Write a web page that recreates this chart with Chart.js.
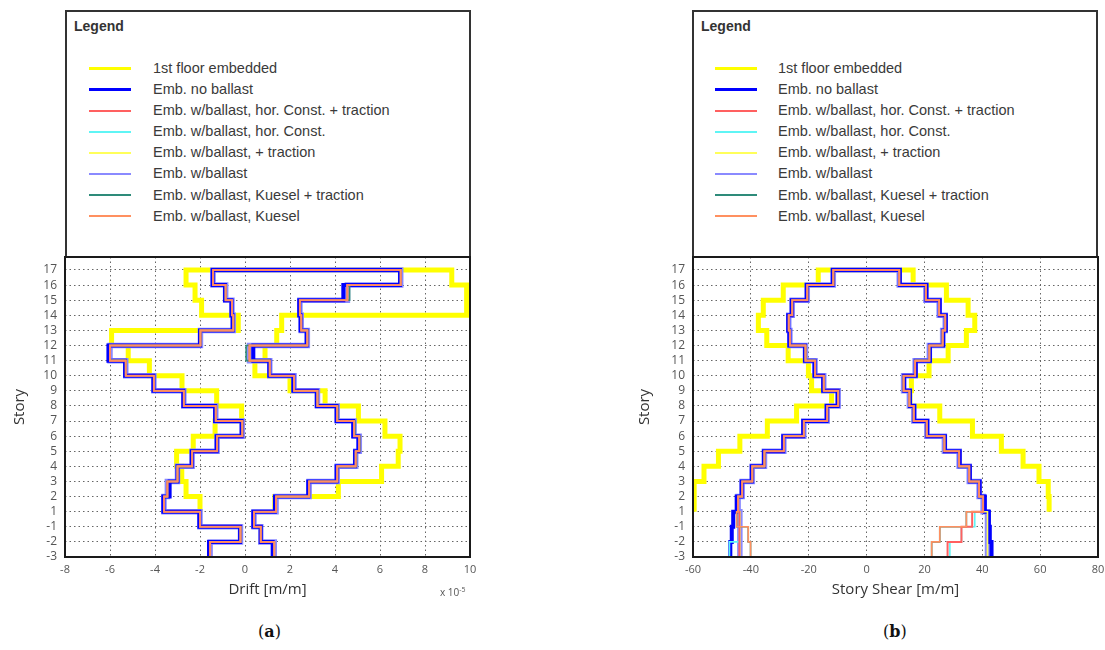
<!DOCTYPE html>
<html>
<head>
<meta charset="utf-8">
<script src="https://cdn.jsdelivr.net/npm/chart.js@4.4.1/dist/chart.umd.min.js"></script>
<style>
  body { margin: 0; width: 1105px; height: 650px; background: #fff; position: relative; overflow: hidden;
         font-family: 'Liberation Sans', Arial, sans-serif; }
  .legend { position: absolute; top: 10px; width: 406px; height: 248px; box-sizing: border-box;
            border: 2px solid #333; background: #fff; }
  .legend .ttl { position: absolute; left: 7px; top: 6px; font-weight: bold; font-size: 14px; color: #333; }
  .legend ul { list-style: none; margin: 0; padding: 0; position: absolute; top: 46px; left: 0; right: 0; }
  .legend li { height: 21.1px; line-height: 21.1px; position: relative; font-size: 14.5px; color: #3a3a3a; white-space: nowrap; }
  .legend li span.sw { position: absolute; top: 50%; width: 42px; }
  .legend li span.tx { position: absolute; }
  .plot { position: absolute; top: 250px; width: 480px; height: 360px; }
  .cap { position: absolute; top: 622px; font-family: 'DejaVu Serif', 'Liberation Serif', serif; font-size: 16px; color: #111; }
  .exp { position: absolute; left: 440px; top: 585px; font-family: 'Liberation Sans Narrow', 'Open Sans', sans-serif;
         font-size: 10px; color: #555; }
</style>
</head>
<body>
<div class="legend" id="legA" style="left:65px"><div class="ttl">Legend</div><ul></ul></div>
<div class="legend" id="legB" style="left:692px"><div class="ttl">Legend</div><ul></ul></div>
<div class="plot" style="left:0px"><canvas id="driftChart" width="480" height="360"></canvas></div>
<div class="plot" style="left:625px"><canvas id="shearChart" width="480" height="360"></canvas></div>
<div class="exp">x 10<sup style="font-size:7px">-5</sup></div>
<div class="cap" style="left:258px">(<b>a</b>)</div>
<div class="cap" style="left:883px">(<b>b</b>)</div>

<script>
// Story levels, bottom to top (each value below belongs to the interval between two levels)
const STORIES = ['-3', '-2', '-1', '1', '2', '3', '4', '5', '6', '7', '8', '9', '10', '11', '12', '13', '14', '15', '16', '17'];

const SERIES_LABELS = [
  '1st floor embedded',
  'Emb. no ballast',
  'Emb. w/ballast, hor. Const. + traction',
  'Emb. w/ballast, hor. Const.',
  'Emb. w/ballast, + traction',
  'Emb. w/ballast',
  'Emb. w/ballast, Kuesel + traction',
  'Emb. w/ballast, Kuesel'
];
const SERIES_COLORS = ['#ffff00', '#0000ff', '#ff6060', '#5ff5f5', '#ffff5a', '#8a8aff', '#2e8b7a', '#ff9060'];
const PLOT_WIDTHS = [5, 4, 2, 1.6, 1.6, 5.5, 1.6, 1.6];
// drawing order in the plot (lower = drawn later, on top); the light blue halo sits under the blue line
const PLOT_ORDER = [9, 7, 2, 5, 6, 8, 3, 1];
const LEGEND_WIDTHS = [3, 3, 2, 2, 2, 2, 2, 2];

// ---- Drift [x 1e-5 m/m], intervals from (-3..-2) up to (16..17) ----
const driftYellowMin = [null, null, null, -2.0, -2.62, -2.81, -3.04, -2.3, -1.33, -0.15, -1.26, -2.8, -4.25, -5.19, -5.93, -0.3, -1.93, -2.22, -2.62];
const driftYellowMax = [null, null, null, 1.33, 4.15, 6.07, 6.81, 6.89, 6.22, 5.04, 3.56, 2.0, 0.44, 0.89, 1.41, 1.63, 9.85, 9.85, 9.19];
const driftBlueMin = [-1.6, -0.22, -2.03, -3.63, -3.35, -3.0, -2.37, -1.26, -0.15, -1.33, -2.74, -4.07, -5.33, -6.07, -2.0, -0.55, -0.6, -0.89, -1.44];
const driftBlueMax = [1.23, 0.7, 0.37, 1.33, 2.81, 4.07, 4.89, 5.04, 4.81, 4.07, 3.19, 2.15, 1.08, 0.37, 2.74, 2.47, 2.41, 4.37, 6.89];
const driftBallastMin = [-1.55, -0.2, -2.0, -3.6, -3.45, -3.0, -2.35, -1.24, -0.12, -1.3, -2.72, -4.05, -5.3, -6.0, -1.98, -0.52, -0.58, -0.86, -1.42];
const driftBallastMax = [1.3, 0.7, 0.4, 1.38, 2.85, 4.1, 4.92, 5.08, 4.85, 4.1, 3.22, 2.18, 1.1, 0.2, 2.77, 2.5, 2.44, 4.55, 6.92];
const driftKueselMax = [1.3, 0.7, 0.4, 1.38, 2.85, 4.1, 4.95, 5.1, 4.88, 4.12, 3.22, 2.18, 1.1, 0.05, 2.77, 2.5, 2.44, 4.65, 6.92];

// ---- Story shear, same intervals ----
const shearYellowMin = [null, null, null, -59.6, -59.6, -56.2, -51.2, -43.8, -34.3, -24.2, -12.1, -19.0, -20.1, -27.1, -34.5, -37.4, -35.7, -28.8, -16.7];
const shearYellowMax = [null, null, null, 63.1, 62.8, 59.6, 54.1, 46.6, 36.6, 25.3, 15.0, 15.5, 21.6, 28.2, 34.5, 37.4, 35.1, 27.6, 16.1];
const shearBlueMin = [-47.1, -46.6, -46.1, -44.9, -43.2, -39.7, -35.5, -28.8, -21.9, -13.8, -10.0, -15.0, -18.0, -21.3, -26.7, -27.1, -25.9, -20.7, -11.7];
const shearBlueMax = [43.2, 42.6, 42.3, 40.9, 39.1, 35.7, 32.2, 27.1, 21.0, 16.5, 15.0, 13.0, 17.0, 21.9, 26.5, 27.4, 25.3, 20.7, 11.5];
// ballast variants share the upper stories (1..17) and differ in the basement
const shearBallastMinUp = [-44.4, -43.0, -39.5, -35.3, -28.6, -21.7, -13.6, -9.8, -14.8, -17.8, -21.1, -26.5, -26.9, -25.7, -20.5, -11.5];
const shearBallastMaxUp = [40.3, 38.9, 35.5, 32.0, 26.9, 20.8, 16.3, 14.8, 12.8, 16.8, 21.7, 26.3, 27.2, 25.1, 20.5, 11.3];
const shearPlainMinLow = [-43.8, -43.8, -43.8];
const shearPlainMaxLow = [41.8, 41.8, 41.8];
const shearHorMinLow = [-47.4, -44.0, -44.0];
const shearHorMaxLow = [28.8, 32.8, 37.4];
const shearHorTrMinLow = [-43.8, -44.0, -44.0];
const shearHorTrMaxLow = [28.0, 32.8, 36.5];
const shearKueselMinLow = [-40.1, -40.9, -44.9];
const shearKueselMaxLow = [22.5, 25.3, 34.5];

const driftSeries = [
  [driftYellowMin, driftYellowMax],
  [driftBlueMin, driftBlueMax],
  [driftBallastMin, driftBallastMax],
  [driftBallastMin, driftBallastMax],
  [driftBallastMin, driftBallastMax],
  [driftBallastMin, driftBallastMax],
  [driftBallastMin, driftKueselMax],
  [driftBallastMin, driftBallastMax]
];
const shearSeries = [
  [shearYellowMin, shearYellowMax],
  [shearBlueMin, shearBlueMax],
  [[...shearHorTrMinLow, ...shearBallastMinUp], [...shearHorTrMaxLow, ...shearBallastMaxUp]],
  [[...shearHorMinLow, ...shearBallastMinUp], [...shearHorMaxLow, ...shearBallastMaxUp]],
  [[...shearPlainMinLow, ...shearBallastMinUp], [...shearPlainMaxLow, ...shearBallastMaxUp]],
  [[...shearPlainMinLow, ...shearBallastMinUp], [...shearPlainMaxLow, ...shearBallastMaxUp]],
  [[...shearKueselMinLow, ...shearBallastMinUp], [...shearKueselMaxLow, ...shearBallastMaxUp]],
  [[...shearKueselMinLow, ...shearBallastMinUp], [...shearKueselMaxLow, ...shearBallastMaxUp]]
];

// ----------------------------------------------------
// Legends (HTML boxes above each plot)
// ----------------------------------------------------
function buildLegend(id, swLeft, txLeft) {
  const ul = document.querySelector('#' + id + ' ul');
  let html = '';
  SERIES_LABELS.forEach((label, i) => {
    const w = LEGEND_WIDTHS[i];
    html += `<li><span class="sw" style="left:${swLeft}px;border-top:${w}px solid ${SERIES_COLORS[i]};margin-top:-${w / 2}px"></span>` +
            `<span class="tx" style="left:${txLeft}px">${label}</span></li>`;
  });
  ul.innerHTML = html;
}
buildLegend('legA', 22, 86);
buildLegend('legB', 21, 84);

// Left envelope going up, across the top story, right envelope coming down
function stepPath(minVals, maxVals) {
  const pts = [];
  minVals.forEach((v, i) => {
    if (v === null) return;
    pts.push({ x: v, y: i }, { x: v, y: i + 1 });
  });
  for (let i = maxVals.length - 1; i >= 0; i--) {
    const v = maxVals[i];
    if (v === null) continue;
    pts.push({ x: v, y: i + 1 }, { x: v, y: i });
  }
  return pts;
}

const frameBox = {
  id: 'frameBox',
  afterDraw(chart) {
    const { ctx, chartArea: a } = chart;
    ctx.save();
    ctx.strokeStyle = '#1a1a1a';
    ctx.lineWidth = 2;
    ctx.strokeRect(a.left, a.top, a.right - a.left, a.bottom - a.top);
    ctx.restore();
  }
};

const TICK_FONT = "'Liberation Sans Narrow', 'Open Sans', sans-serif";

function makeChart(canvasId, series, xMin, xMax, xStep, xTitle, yWidth, padRight) {
  const datasets = series.map((s, i) => ({
    label: SERIES_LABELS[i],
    data: stepPath(s[0], s[1]),
    showLine: true,
    borderColor: SERIES_COLORS[i],
    borderWidth: PLOT_WIDTHS[i],
    pointRadius: 0,
    tension: 0,
    fill: false,
    order: PLOT_ORDER[i]
  }));

  return new Chart(document.getElementById(canvasId), {
    type: 'scatter',
    data: { datasets },
    options: {
      responsive: false,
      animation: false,
      layout: { padding: { left: 0, right: padRight, top: 7, bottom: 0 } },
      plugins: { legend: { display: false }, tooltip: { enabled: false } },
      scales: {
        x: {
          type: 'linear',
          min: xMin,
          max: xMax,
          afterFit: (scale) => { scale.height = 53; scale.paddingLeft = 0; scale.paddingRight = 0; },
          ticks: { stepSize: xStep, padding: 6, color: '#555', font: { family: TICK_FONT, size: 11 } },
          grid: { color: '#666', lineWidth: 1, drawTicks: false },
          border: { display: false, dash: [1.5, 3] },
          title: { display: true, text: xTitle, color: '#333', padding: { bottom: 11 },
                   font: { family: TICK_FONT, size: 15 } }
        },
        y: {
          type: 'linear',
          min: 0,
          max: 19.86,
          afterFit: (scale) => { scale.width = yWidth; scale.paddingTop = 0; scale.paddingBottom = 0; },
          afterBuildTicks: (scale) => { scale.ticks = STORIES.map((s, i) => ({ value: i })); },
          ticks: { autoSkip: false, padding: 8, color: '#555', font: { family: TICK_FONT, size: 12 },
                   callback: (v) => STORIES[v] },
          grid: { color: '#666', lineWidth: 1, drawTicks: false },
          border: { display: false, dash: [1.5, 3] },
          title: { display: true, text: 'Story', color: '#333', padding: { top: 11 },
                   font: { family: TICK_FONT, size: 15 } }
        }
      }
    },
    plugins: [frameBox]
  });
}

makeChart('driftChart', driftSeries, -8, 10, 2, 'Drift [m/m]', 65, 10);
makeChart('shearChart', shearSeries, -60, 80, 20, 'Story Shear [m/m]', 68, 7);
</script>
</body>
</html>
